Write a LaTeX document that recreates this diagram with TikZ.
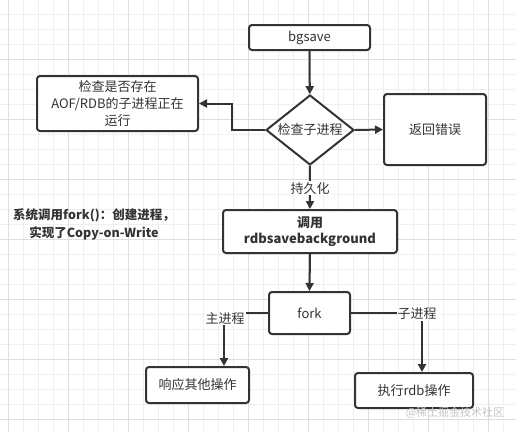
\documentclass[tikz,border=0pt]{standalone}
\usepackage{fontspec}
\setmainfont{Noto Sans CJK SC}
\usetikzlibrary{arrows.meta,shapes.geometric}
\definecolor{ink}{HTML}{333333}
\definecolor{gminor}{HTML}{EFEFEF}
\definecolor{gmajor}{HTML}{DEDEDE}
\tikzset{
  box/.style={draw=ink, line width=2pt, rounded corners=3pt, fill=white, inner sep=0pt, align=center, text=ink},
  conn/.style={draw=ink, line width=2pt, -{Triangle[length=8pt,width=8pt]}},
  plain/.style={draw=ink, line width=2pt},
  lbl/.style={fill=white, inner sep=1pt, text=ink},
  txt/.style={font=\fontsize{13}{16.7}\selectfont}
}
\begin{document}
\begin{tikzpicture}[x=1pt,y=-1pt, every node/.style={txt}]
\useasboundingbox (0,0) rectangle (516,432);
\fill[white] (0,0) rectangle (516,432);
% grid
\foreach \i in {0,...,34} {\draw[gminor, line width=0.8pt] ({8.3+15*\i},0) -- ({8.3+15*\i},432);}
\foreach \i in {0,...,29} {\draw[gminor, line width=0.8pt] (0,{-0.7+15*\i}) -- (516,{-0.7+15*\i});}
\foreach \i in {0,...,8} {\draw[gmajor, line width=0.8pt] ({8.3+60*\i},0) -- ({8.3+60*\i},432);}
\foreach \i in {1,...,7} {\draw[gmajor, line width=0.8pt] (0,{-0.7+60*\i}) -- (516,{-0.7+60*\i});}

% nodes
\node[box, minimum width=121pt, minimum height=25pt] (bg) at (309.5,37.5) {bgsave};
\node[diamond, draw=ink, line width=2pt, fill=white, minimum width=88pt, minimum height=70pt, inner sep=0pt] (chk) at (310,130) {};
\node[text=ink] (chkt) at (chk.center) {检查子进程};
\node[box, minimum width=102pt, minimum height=71pt] (err) at (435,129.5) {返回错误};
\node[box, minimum width=161pt, minimum height=55pt] (aof) at (117.5,103.5) {检查是否存在\\AOF/RDB的子进程正在\\运行};
\node[box, minimum width=174pt, minimum height=43pt, font=\fontsize{13}{16.7}\selectfont\bfseries] (rdb) at (310,231.5) {调用\\rdbsavebackground};
\node[align=center, text=ink, font=\fontsize{12.5}{18}\selectfont\bfseries] (note) at (94,224) {系统调用fork()：创建进程，\\实现了Copy-on-Write};
\node[box, minimum width=81pt, minimum height=42pt] (fork) at (309.5,313) {fork};
\node[box, minimum width=103pt, minimum height=36pt] (resp) at (197.5,385) {响应其他操作};
\node[box, minimum width=118pt, minimum height=35pt] (exec) at (414,390.5) {执行rdb操作};
\node[text=gray!45, font=\fontsize{11}{13}\selectfont] (wm) at (455,413) {@稀土掘金技术社区};

\coordinate (aofc1) at (231.5,130);
\coordinate (aofc2) at (231.5,103.5);
\coordinate (lc) at (224,313);
\coordinate (rc) at (422,313);

% connectors
\draw[conn] (bg) -- (chk);
\draw[conn] (chk.east) -- (err.west);
\draw[conn] (chk.west) -- (aofc1) -- (aofc2) -- (aof.east);
\draw[conn] (chk.south) -- node[lbl, pos=0.52] (lp) {持久化} (rdb.north);
\draw[conn] (rdb.south) -- (fork.north);
\draw[conn] (fork.west) -- (lc) -- (lc |- resp.north);
\draw[conn] (fork.east) -- (rc) -- (rc |- exec.north);
\node[lbl] (lm) at (225,318.5) {主进程};
\node[lbl] (lz) at (417,314) {子进程};
\end{tikzpicture}
\end{document}
